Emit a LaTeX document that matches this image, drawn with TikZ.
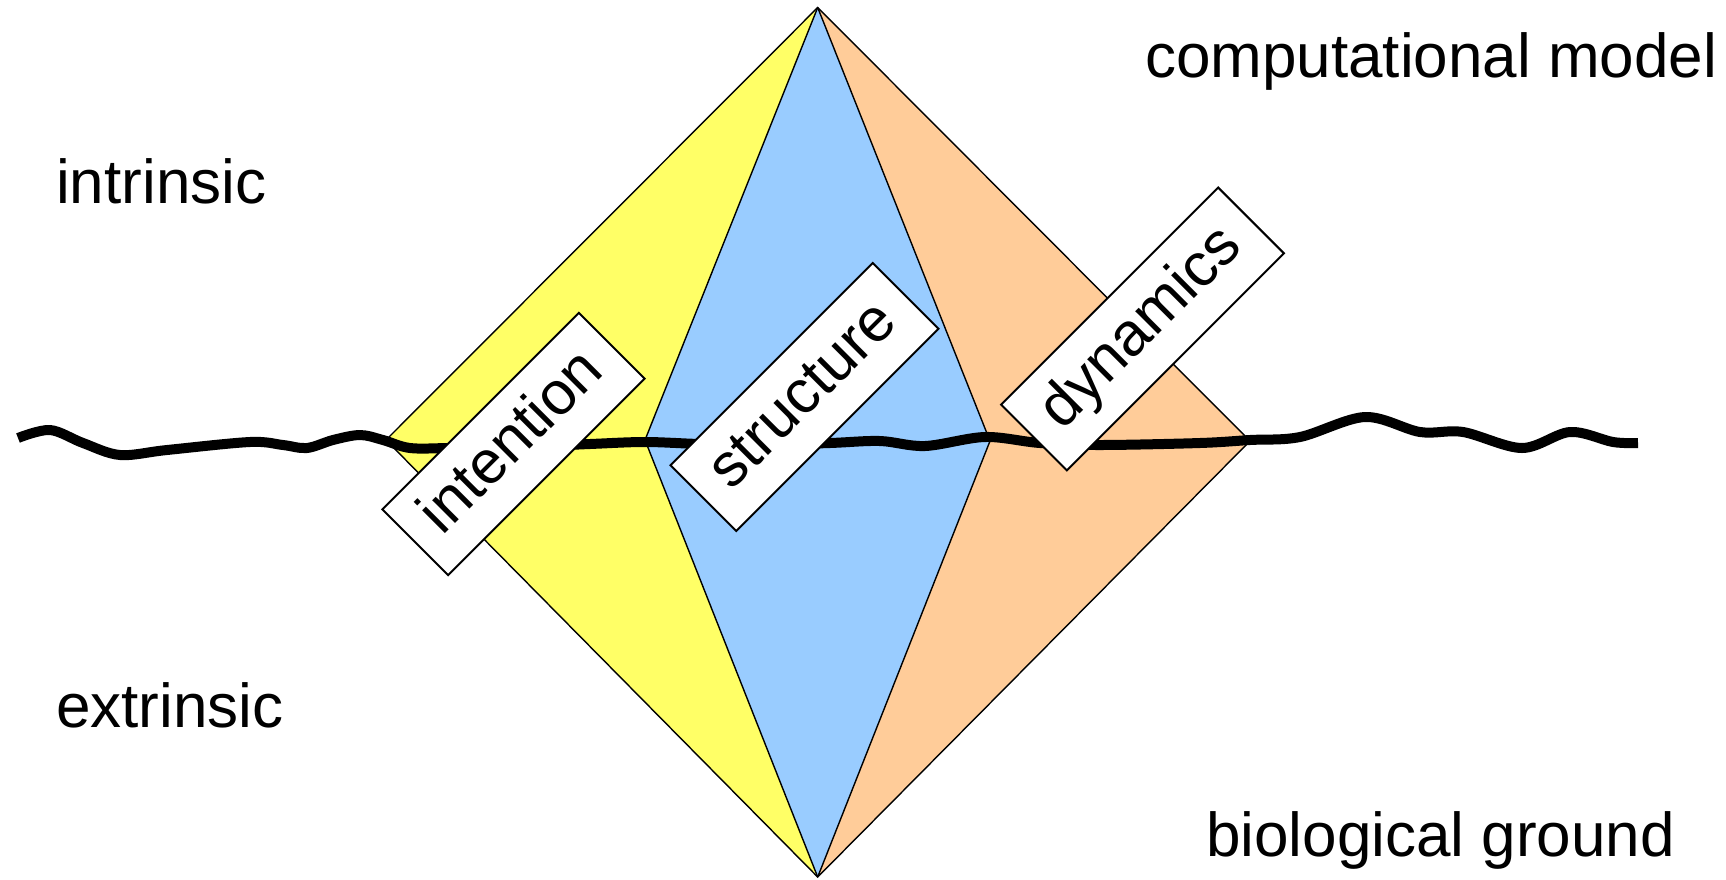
\documentclass[tikz,border=0pt]{standalone}
\usepackage{fontspec}
\setmainfont{Liberation Sans}
\definecolor{cyel}{HTML}{FFFF66}
\definecolor{cblue}{HTML}{99CCFF}
\definecolor{corange}{HTML}{FFCC99}
\begin{document}
\begin{tikzpicture}[x=1pt,y=-1pt,
  face/.style={draw=black,line width=1.4pt,line join=miter},
  lbl/.style={font=\fontsize{62}{70}\selectfont,inner sep=0pt,anchor=base west},
  tag/.style={draw=black,fill=white,line width=2pt,rotate=45,inner sep=0pt,
    minimum height=93pt,text height=44pt,text depth=13pt,
    font=\fontsize{61}{70}\selectfont},
  wave/.style={line width=10pt}]
\useasboundingbox (0,0) rectangle (1726,879);
\coordinate (T) at (817.7,7.5);
\coordinate (B) at (817.7,877);
\coordinate (L) at (386,440);
\coordinate (R) at (1250,441);
\coordinate (IL) at (645,440);
\coordinate (IR) at (990,441);
\fill[cyel] (T) -- (L) -- (B) -- (IL) -- cycle;
\fill[cblue] (T) -- (IL) -- (B) -- (IR) -- cycle;
\fill[corange] (T) -- (IR) -- (B) -- (R) -- cycle;
\draw[face] (T) -- (L) -- (B) -- (R) -- cycle;
\draw[face] (T) -- (IL) -- (B);
\draw[face] (T) -- (IR) -- (B);
\draw[wave] plot[smooth,tension=0.55] coordinates {
 (18,438) (50,430) (83,443) (120,455) (167,450) (250,442) (283,445) (307,448)
 (333,440) (360,435) (383,440) (410,448) (450,448) (520,447) (590,444)
 (645,442) (700,444) (760,445) (830,443) (880,441) (925,446) (985,437)
 (1040,443) (1100,445) (1200,443) (1250,440) (1300,437) (1365,417)
 (1420,432) (1463,432) (1522,448) (1570,432) (1613,442) (1638,443)};
\node[tag,minimum width=278pt] (intention) at (513.5,444) {intention};
\node[tag,minimum width=286pt] (structure) at (804.5,397) {structure};
\node[tag,minimum width=307pt] (dynamics) at (1142.5,329) {dynamics};
\node[lbl] (intr) at (56,203) {intrinsic};
\node[lbl] (extr) at (56,727) {extrinsic};
\node[lbl] (comp) at (1145,77) {computational model};
\node[lbl] (bio) at (1206,856) {biological ground};
\end{tikzpicture}
\end{document}
